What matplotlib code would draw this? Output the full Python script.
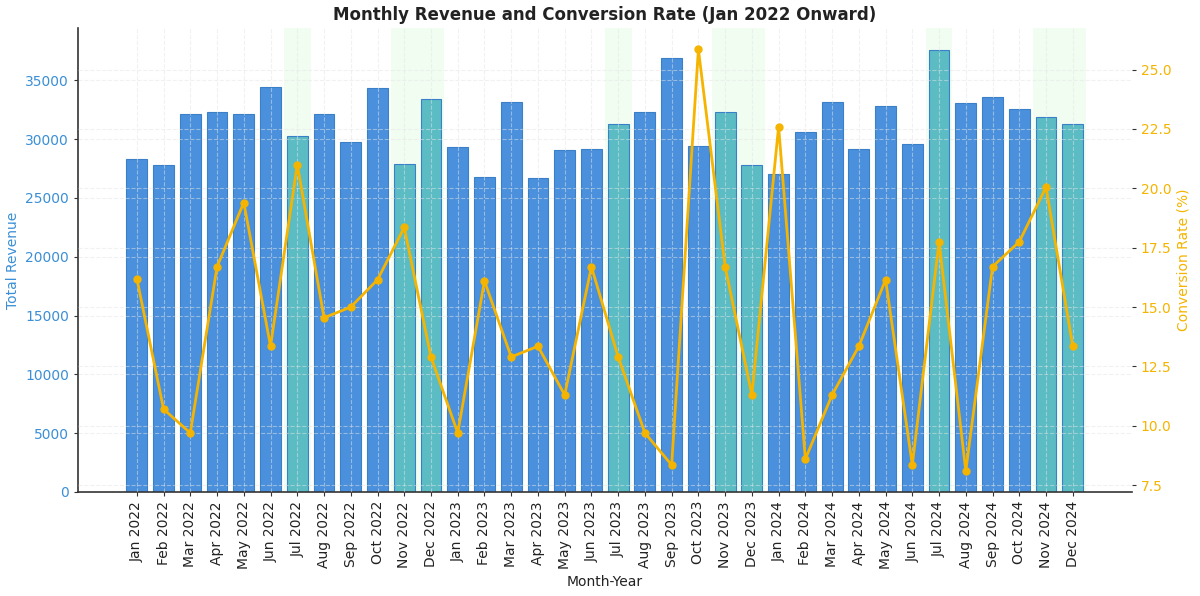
import numpy as np
import matplotlib.pyplot as plt

# 월별 라벨
months = ['Jan', 'Feb', 'Mar', 'Apr', 'May', 'Jun',
          'Jul', 'Aug', 'Sep', 'Oct', 'Nov', 'Dec']
years = [2022, 2023, 2024]
labels = [f'{m} {y}' for y in years for m in months]

# 총 매출
revenue = [28300, 27800, 32150, 32350, 32150, 34400, 30250, 32100, 29800, 34350, 27850, 33400,
           29300, 26780, 33150, 26700, 29050, 29200, 31250, 32350, 36880, 29400, 32280, 27780,
           27070, 30650, 33130, 29200, 32790, 29560, 37550, 33100, 33600, 32600, 31900, 31330]

# 전환율 (%)
conversion = [16.2, 10.7, 9.7, 16.7, 19.4, 13.35, 21.0, 14.55, 15.0, 16.15, 18.35, 12.9,
              9.7, 16.1, 12.9, 13.35, 11.3, 16.7, 12.9, 9.7, 8.35, 25.85, 16.7, 11.3,
              22.6, 8.6, 11.3, 13.35, 16.15, 8.35, 17.75, 8.1, 16.7, 17.75, 20.05, 13.35]

# 강조 월 (7월, 11월, 12월)
highlight = ['Jul', 'Nov', 'Dec']

blue = '#4a90dc'
teal = '#5bbcc4'
gold = '#f4b400'

x = np.arange(len(labels))
is_hl = [lab.split()[0] in highlight for lab in labels]

fig = plt.figure(figsize=(12, 5.96), dpi=100)
ax1 = fig.add_axes([0.065, 0.1745, 0.878, 0.778])

for i, h in enumerate(is_hl):
    if h:
        ax1.axvspan(i - 0.5, i + 0.5, color='lightgreen', alpha=0.11, lw=0, zorder=0)

colors = [teal if h else blue for h in is_hl]
ax1.bar(x, revenue, width=0.78, color=colors, edgecolor='#3a80c8', linewidth=0.8, zorder=2)
ax1.set_ylim(0, max(revenue) * 1.05)
ax1.set_xlim(-2.2, len(labels) + 1.2)
ax1.set_ylabel('Total Revenue', color='#3a8fd6', fontsize=10)
ax1.tick_params(axis='y', labelcolor='#3a8fd6', labelsize=10, length=3, color='#333333')
ax1.set_xticks(x)
ax1.set_xticklabels(labels, rotation=90, fontsize=10, color='#222222')
ax1.tick_params(axis='x', length=3, color='#333333')
ax1.set_xlabel('Month-Year', fontsize=10, color='#222222')
ax1.grid(True, linestyle='--', color='#e4e4e4', alpha=0.5, lw=0.8, zorder=3)
ax1.set_axisbelow(False)
ax1.spines['top'].set_visible(False)
ax1.spines['right'].set_visible(False)
ax1.spines['left'].set_color('#333333')
ax1.spines['bottom'].set_color('#333333')
ax1.spines['left'].set_linewidth(1.2)
ax1.spines['bottom'].set_linewidth(1.2)

ax2 = ax1.twinx()
ax2.plot(x, conversion, color=gold, marker='o', markersize=5, lw=2, zorder=5)
ax2.set_ylabel('Conversion Rate (%)', color=gold, fontsize=10)
ax2.tick_params(axis='y', labelcolor=gold, labelsize=10, length=3, color='#333333')
ax2.grid(True, axis='y', linestyle='--', color='#e4e4e4', alpha=0.5, lw=0.8)
for s in ['top', 'right', 'left', 'bottom']:
    ax2.spines[s].set_visible(False)

ax1.set_title('Monthly Revenue and Conversion Rate (Jan 2022 Onward)',
              fontsize=12, fontweight='bold', color='#222222', pad=6)

fig.savefig('out.png', dpi=100)
